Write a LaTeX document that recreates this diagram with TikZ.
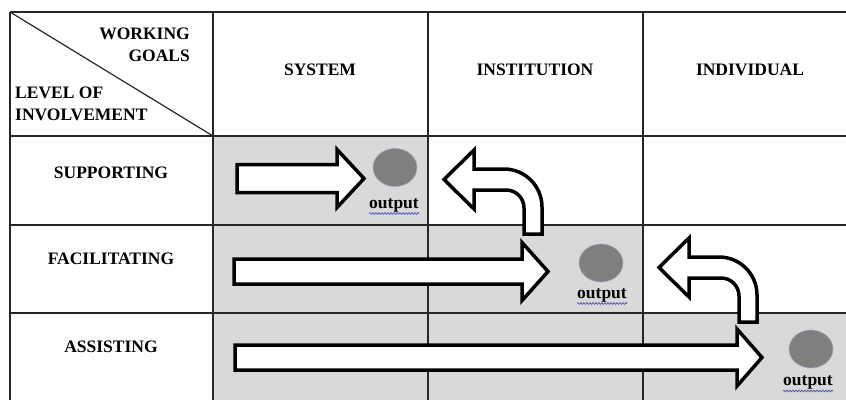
\documentclass[tikz,border=0pt]{standalone}
\usepackage{fontspec}
\setmainfont{Liberation Serif}
\usepackage{tikz}
\usetikzlibrary{shapes.geometric,decorations.pathmorphing}

\definecolor{cellgrey}{HTML}{D9D9D9}
\definecolor{dotgrey}{HTML}{7F7F7F}
\definecolor{dotedge}{HTML}{9AAABF}
\definecolor{squiggle}{HTML}{3344CC}

\tikzset{
  gridline/.style={line width=1.2pt,black!85},
  hdr/.style={font=\bfseries\fontsize{17.5}{21.5}\selectfont,inner sep=0pt},
  blockarrow/.style={draw=black,fill=white,line width=3.5pt,line join=miter},
  outdot/.style={ellipse,fill=dotgrey,draw=dotedge,line width=0.6pt,
    minimum width=44pt,minimum height=38pt,inner sep=0pt},
  outlabel/.style={font=\bfseries\fontsize{17.5}{21.5}\selectfont,inner sep=0pt},
  spell/.style={squiggle,line width=0.6pt,decorate,
    decoration={snake,amplitude=0.9pt,segment length=3pt}}
}

\begin{document}
\begin{tikzpicture}[x=1pt,y=-1pt]
  \useasboundingbox (0,0) rectangle (846,399);
  \begin{scope}
  \clip (0,0) rectangle (846,399);
  % Shaded cells, one staircase step per row
  \fill[cellgrey] (213,136) rectangle (428,225);
  \fill[cellgrey] (213,225) rectangle (643,313);
  \fill[cellgrey] (213,313) rectangle (870,420);
  % Table rules (table runs past the right and bottom edge)
  \foreach \y in {12,136,225,313}{
    \draw[gridline] (10,\y) -- (870,\y);
  }
  \foreach \x in {10,213,428,643}{
    \draw[gridline] (\x,12) -- (\x,420);
  }
  \draw[gridline] (10,12) -- (213,136);
  \end{scope}

  % Corner cell
  \node[hdr,align=right,anchor=north east] (goals) at (190,28) {WORKING\\GOALS};
  \node[hdr,align=left,anchor=north west] (level) at (15,87) {LEVEL OF\\INVOLVEMENT};
  % Column heads
  \foreach \x/\lab/\nm in {320/SYSTEM/sys, 535/INSTITUTION/inst, 750/INDIVIDUAL/indiv}{
    \node[hdr] (\nm) at (\x,70) {\lab};
  }
  % Row heads
  \foreach \y/\lab/\nm in {173/SUPPORTING/supp, 259/FACILITATING/facil, 347/ASSISTING/assist}{
    \node[hdr] (\nm) at (111,\y) {\lab};
  }

  % Straight arrows: tail x / centre y / shaft half / head base x / head half / tip x
  \foreach \tx/\cy/\sh/\hx/\hh/\px in {
    237/178.5/14/337/29/364,
    234/271.5/12.5/522/29/548,
    235/357.5/12.5/737/28.5/762}{
    \draw[blockarrow] (\tx,\cy-\sh) -- (\hx,\cy-\sh) -- (\hx,\cy-\hh) -- (\px,\cy)
      -- (\hx,\cy+\hh) -- (\hx,\cy+\sh) -- (\tx,\cy+\sh) -- cycle;
  }
  % Bent arrows going back up a row and to the left
  \foreach \dx/\dy in {0/0, 215/88}{
    \begin{scope}[shift={(\dx,\dy)}]
      \draw[blockarrow] (444,179.5) -- (474,150) -- (474,169) -- (504,169)
        .. controls (525,169) and (542,186) .. (542,207) -- (542,234) -- (524,234)
        -- (524,208) .. controls (524,198) and (516,190) .. (506,190)
        -- (474,190) -- (474,209) -- cycle;
    \end{scope}
  }

  % Outputs
  \foreach \i/\dxc/\dyc/\lx/\ly in {1/395/167.5/394/205, 2/601/263/602/295, 3/811/349/808/382.5}{
    \node[outdot] (dot\i) at (\dxc,\dyc) {};
    \node[outlabel] (out\i) at (\lx,\ly) {output};
    \draw[spell] ([yshift=-1.5pt]out\i.south west) -- ([yshift=-1.5pt]out\i.south east);
  }
\end{tikzpicture}
\end{document}
